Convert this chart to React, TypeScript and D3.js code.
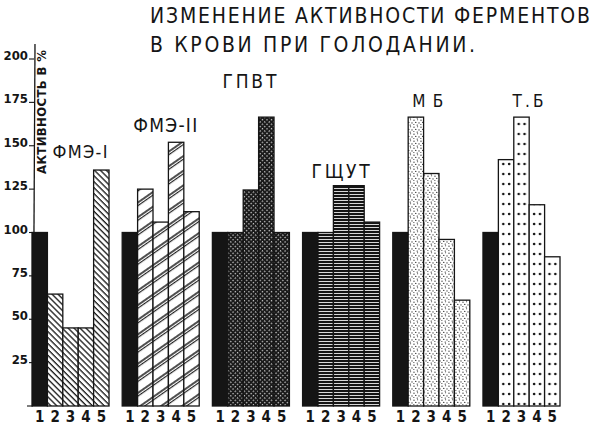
import React from "react";
import * as d3 from "d3";

// ---- data ----
const groups = ["ФМЭ-I", "ФМЭ-II", "ГПВТ", "ГЩУТ", "МБ", "Т.Б"];
const barLabels = ["1", "2", "3", "4", "5"];
const fme1 = [100, 64.5, 45, 45, 136];
const fme2 = [100, 125, 106, 152, 112];
const gpvt = [100, 100, 124.5, 166.5, 100];
const gshut = [100, 100, 127, 127, 106];
const mb = [100, 166.5, 134, 96, 61];
const tb = [100, 142, 166.5, 116, 86];
const yTicks = [25, 50, 75, 100, 125, 150, 175, 200];
const titleLines = ["ИЗМЕНЕНИЕ АКТИВНОСТИ ФЕРМЕНТОВ", "В КРОВИ ПРИ ГОЛОДАНИИ."];
const yTitle = "АКТИВНОСТЬ В %";

const series = [fme1, fme2, gpvt, gshut, mb, tb];

// ---- layout ----
const W = 600;
const H = 426;
const INK = "#151515";
const FONT = "'DejaVu Sans Condensed', 'Liberation Sans Narrow', 'DejaVu Sans', sans-serif";
const labelLayout = [
  { dx: 48, y: 158, w: 55, fs: 18 },
  { dx: 43, y: 132, w: 64, fs: 19 },
  { dx: 37, y: 88, w: 54, fs: 19 },
  { dx: 38, y: 178, w: 58, fs: 19 },
  { dx: 35, y: 107, w: 31, fs: 17 },
  { dx: 45, y: 107, w: 31, fs: 17 },
];

export default function App() {
  const x = d3.scaleBand<string>().domain(groups).range([32, 560]).paddingInner(0.146).paddingOuter(0);
  const xi = d3.scaleBand<string>().domain(barLabels).range([0, x.bandwidth()]).padding(0);
  const y = d3.scaleLinear().domain([0, 200]).range([406, 59]);
  const bw = xi.bandwidth();
  const patterns = ["p0", "p1", "p2", "p3", "p4", "p5"];
  const x6 = x(groups[5]) as number;

  return (
    <div style={{ position: "fixed", left: 0, top: 0, width: W, height: H, background: "#fff" }}>
      <svg width={W} height={H} viewBox={`0 0 ${W} ${H}`} style={{ display: "block" }}>
        <defs>
          <pattern id="p0" patternUnits="userSpaceOnUse" width="4.2" height="4.2" patternTransform="rotate(-45)">
            <rect width="4.2" height="4.2" fill="#fff" />
            <line x1="1" y1="0" x2="1" y2="4.2" stroke={INK} strokeWidth="1.3" />
          </pattern>
          <pattern id="p1" patternUnits="userSpaceOnUse" width="20" height="12" patternTransform="rotate(-35)">
            <rect width="20" height="12" fill="#fff" />
            <line x1="0" y1="5" x2="20" y2="5" stroke={INK} strokeWidth="1.5" />
            <line x1="0" y1="7.6" x2="20" y2="7.6" stroke={INK} strokeWidth="1.1" />
          </pattern>
          <pattern id="p2" patternUnits="userSpaceOnUse" width="3.2" height="3.2" patternTransform="rotate(45)">
            <rect width="3.2" height="3.2" fill="#1a1a1a" />
            <rect x="0.8" y="0.8" width="1.3" height="1.3" fill="#c8c8c8" />
          </pattern>
          <pattern id="p3" patternUnits="userSpaceOnUse" width="10" height="3">
            <rect width="10" height="3" fill="#eee" />
            <rect width="10" height="2.1" fill={INK} />
          </pattern>
          <pattern id="p4" patternUnits="userSpaceOnUse" width="7" height="7">
            <rect width="7" height="7" fill="#fff" />
            <circle cx="1" cy="1.2" r="0.6" fill={INK} />
            <circle cx="4.6" cy="0.7" r="0.5" fill={INK} />
            <circle cx="2.8" cy="3.4" r="0.6" fill={INK} />
            <circle cx="6" cy="3.9" r="0.55" fill={INK} />
            <circle cx="0.9" cy="5.6" r="0.5" fill={INK} />
            <circle cx="4.2" cy="6.1" r="0.6" fill={INK} />
          </pattern>
          <pattern id="p5" patternUnits="userSpaceOnUse" x={x6} y="0" width={bw} height="10">
            <rect width={bw} height="10" fill="#fff" />
            <circle cx={bw * 0.32} cy="4" r="1.3" fill={INK} />
            <circle cx={bw * 0.7} cy="4" r="1.3" fill={INK} />
          </pattern>
        </defs>

        {/* title */}
        {titleLines.map((t, i) => (
          <text
            key={t}
            x={150}
            y={i === 0 ? 23 : 52}
            textLength={i === 0 ? 440 : 325}
            lengthAdjust="spacing"
            fontFamily={FONT}
            fontSize={21}
            fill={INK}
          >
            {t}
          </text>
        ))}

        {/* y axis */}
        <line x1={35} y1={44} x2={33} y2={y(0)} stroke={INK} strokeWidth={1.3} />
        {yTicks.map((t) => (
          <g key={t}>
            <line x1={29} x2={34} y1={y(t)} y2={y(t)} stroke={INK} strokeWidth={1.1} />
            <text
              x={28}
              y={y(t) + 1}
              textAnchor="end"
              fontFamily={FONT}
              fontWeight="bold"
              fontSize={13}
              fill={INK}
            >
              {t}
            </text>
          </g>
        ))}
        <line x1={27} x2={33} y1={y(0)} y2={y(0)} stroke={INK} strokeWidth={1.1} />
        <text
          transform={`translate(46,174) rotate(-90)`}
          textLength={124}
          lengthAdjust="spacing"
          fontFamily={FONT}
          fontWeight="bold"
          fontSize={13}
          fill={INK}
        >
          {yTitle}
        </text>

        {/* bars */}
        {groups.map((g, gi) => {
          const gx = x(g) as number;
          const L = labelLayout[gi];
          return (
            <g key={g}>
              {series[gi].map((v, bi) => {
                const bx = gx + (xi(barLabels[bi]) as number);
                return (
                  <rect
                    key={bi}
                    x={bx}
                    y={y(v)}
                    width={bw}
                    height={y(0) - y(v)}
                    fill={bi === 0 ? INK : `url(#${patterns[gi]})`}
                    stroke={INK}
                    strokeWidth={1.3}
                  />
                );
              })}
              {barLabels.map((b) => (
                <text
                  key={b}
                  x={gx + (xi(b) as number) + bw / 2}
                  y={422}
                  textAnchor="middle"
                  fontFamily={FONT}
                  fontWeight="bold"
                  fontSize={15}
                  fill={INK}
                >
                  {b}
                </text>
              ))}
              <text
                x={gx + L.dx}
                y={L.y}
                textAnchor="middle"
                textLength={L.w}
                lengthAdjust="spacing"
                fontFamily={FONT}
                fontSize={L.fs}
                fill={INK}
              >
                {g}
              </text>
            </g>
          );
        })}
      </svg>
    </div>
  );
}
